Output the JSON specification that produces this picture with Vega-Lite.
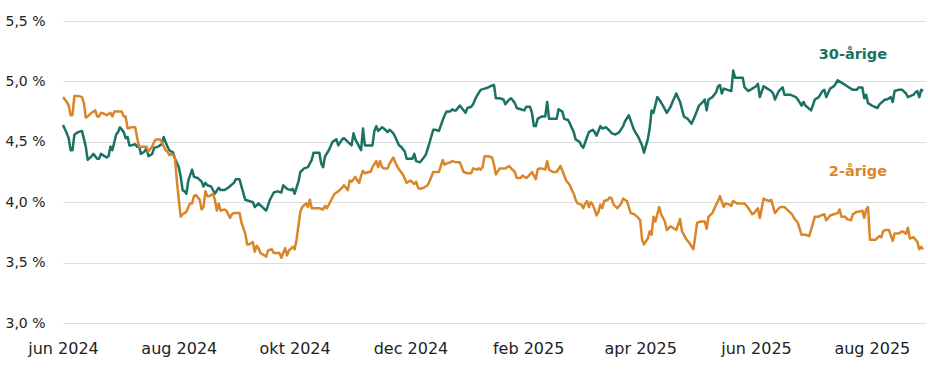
{
"$schema":"https://vega.github.io/schema/vega-lite/v6.json",
"width":862,"height":302,
"autosize":{"type":"none"},
"padding":{"left":63,"top":21,"right":3,"bottom":49},
"background":"white",
"config":{"view":{"stroke":null},"font":"DejaVu Sans"},
"datasets":{
"a":[
{"d":"2024-06-01","v":4.64},{"d":"2024-06-03","v":4.57},{"d":"2024-06-04","v":4.53},{"d":"2024-06-05","v":4.43},{"d":"2024-06-06","v":4.43},{"d":"2024-06-07","v":4.56},{"d":"2024-06-09","v":4.58},{"d":"2024-06-11","v":4.59},{"d":"2024-06-13","v":4.46},{"d":"2024-06-14","v":4.35},{"d":"2024-06-16","v":4.38},{"d":"2024-06-17","v":4.40},{"d":"2024-06-19","v":4.36},{"d":"2024-06-20","v":4.36},{"d":"2024-06-21","v":4.40},{"d":"2024-06-22","v":4.39},{"d":"2024-06-24","v":4.37},{"d":"2024-06-25","v":4.38},{"d":"2024-06-26","v":4.46},{"d":"2024-06-27","v":4.43},{"d":"2024-06-29","v":4.56},{"d":"2024-06-30","v":4.58},
{"d":"2024-07-01","v":4.62},{"d":"2024-07-03","v":4.58},{"d":"2024-07-04","v":4.53},{"d":"2024-07-05","v":4.54},{"d":"2024-07-06","v":4.47},{"d":"2024-07-07","v":4.47},{"d":"2024-07-09","v":4.48},{"d":"2024-07-10","v":4.46},{"d":"2024-07-11","v":4.47},{"d":"2024-07-12","v":4.40},{"d":"2024-07-14","v":4.42},{"d":"2024-07-15","v":4.45},{"d":"2024-07-16","v":4.38},{"d":"2024-07-18","v":4.40},{"d":"2024-07-19","v":4.45},{"d":"2024-07-21","v":4.46},{"d":"2024-07-23","v":4.48},{"d":"2024-07-24","v":4.54},{"d":"2024-07-26","v":4.46},{"d":"2024-07-27","v":4.43},{"d":"2024-07-29","v":4.41},{"d":"2024-07-30","v":4.36},
{"d":"2024-08-01","v":4.29},{"d":"2024-08-02","v":4.21},{"d":"2024-08-03","v":4.10},{"d":"2024-08-04","v":4.09},{"d":"2024-08-05","v":4.07},{"d":"2024-08-06","v":4.18},{"d":"2024-08-08","v":4.27},{"d":"2024-08-09","v":4.21},{"d":"2024-08-11","v":4.20},{"d":"2024-08-13","v":4.17},{"d":"2024-08-14","v":4.13},{"d":"2024-08-15","v":4.16},{"d":"2024-08-16","v":4.14},{"d":"2024-08-18","v":4.13},{"d":"2024-08-20","v":4.07},{"d":"2024-08-22","v":4.12},{"d":"2024-08-23","v":4.10},{"d":"2024-08-25","v":4.10},{"d":"2024-08-27","v":4.12},{"d":"2024-08-30","v":4.16},{"d":"2024-08-31","v":4.19},
{"d":"2024-09-02","v":4.19},{"d":"2024-09-03","v":4.13},{"d":"2024-09-05","v":4.02},{"d":"2024-09-07","v":4.01},{"d":"2024-09-09","v":4.00},{"d":"2024-09-10","v":3.96},{"d":"2024-09-12","v":3.99},{"d":"2024-09-14","v":3.96},{"d":"2024-09-16","v":3.93},{"d":"2024-09-18","v":4.02},{"d":"2024-09-20","v":4.08},{"d":"2024-09-22","v":4.09},{"d":"2024-09-24","v":4.08},{"d":"2024-09-25","v":4.14},{"d":"2024-09-27","v":4.11},{"d":"2024-09-29","v":4.10},{"d":"2024-09-30","v":4.11},
{"d":"2024-10-01","v":4.07},{"d":"2024-10-03","v":4.17},{"d":"2024-10-04","v":4.25},{"d":"2024-10-06","v":4.28},{"d":"2024-10-08","v":4.29},{"d":"2024-10-10","v":4.35},{"d":"2024-10-11","v":4.41},{"d":"2024-10-14","v":4.41},{"d":"2024-10-15","v":4.32},{"d":"2024-10-16","v":4.29},{"d":"2024-10-17","v":4.38},{"d":"2024-10-19","v":4.43},{"d":"2024-10-21","v":4.50},{"d":"2024-10-23","v":4.52},{"d":"2024-10-24","v":4.47},{"d":"2024-10-26","v":4.52},{"d":"2024-10-27","v":4.53},{"d":"2024-10-29","v":4.50},{"d":"2024-10-31","v":4.47},
{"d":"2024-11-01","v":4.57},{"d":"2024-11-02","v":4.52},{"d":"2024-11-04","v":4.46},{"d":"2024-11-05","v":4.43},{"d":"2024-11-06","v":4.61},{"d":"2024-11-07","v":4.47},{"d":"2024-11-09","v":4.47},{"d":"2024-11-11","v":4.47},{"d":"2024-11-12","v":4.59},{"d":"2024-11-13","v":4.63},{"d":"2024-11-14","v":4.59},{"d":"2024-11-16","v":4.62},{"d":"2024-11-17","v":4.61},{"d":"2024-11-19","v":4.58},{"d":"2024-11-20","v":4.60},{"d":"2024-11-22","v":4.57},{"d":"2024-11-23","v":4.54},{"d":"2024-11-25","v":4.47},{"d":"2024-11-26","v":4.46},{"d":"2024-11-28","v":4.42},{"d":"2024-11-29","v":4.36},{"d":"2024-11-30","v":4.36},
{"d":"2024-12-02","v":4.36},{"d":"2024-12-03","v":4.40},{"d":"2024-12-04","v":4.34},{"d":"2024-12-06","v":4.33},{"d":"2024-12-07","v":4.35},{"d":"2024-12-09","v":4.39},{"d":"2024-12-11","v":4.49},{"d":"2024-12-13","v":4.60},{"d":"2024-12-14","v":4.60},{"d":"2024-12-16","v":4.59},{"d":"2024-12-18","v":4.68},{"d":"2024-12-19","v":4.72},{"d":"2024-12-20","v":4.75},{"d":"2024-12-22","v":4.75},{"d":"2024-12-23","v":4.77},{"d":"2024-12-24","v":4.76},{"d":"2024-12-25","v":4.76},{"d":"2024-12-27","v":4.80},{"d":"2024-12-28","v":4.78},{"d":"2024-12-30","v":4.74},{"d":"2024-12-31","v":4.78},
{"d":"2025-01-02","v":4.79},{"d":"2025-01-03","v":4.81},{"d":"2025-01-04","v":4.85},{"d":"2025-01-05","v":4.88},{"d":"2025-01-07","v":4.93},{"d":"2025-01-09","v":4.94},{"d":"2025-01-11","v":4.95},{"d":"2025-01-12","v":4.96},{"d":"2025-01-14","v":4.97},{"d":"2025-01-15","v":4.86},{"d":"2025-01-17","v":4.86},{"d":"2025-01-19","v":4.85},{"d":"2025-01-20","v":4.81},{"d":"2025-01-22","v":4.85},{"d":"2025-01-23","v":4.86},{"d":"2025-01-25","v":4.82},{"d":"2025-01-26","v":4.78},{"d":"2025-01-28","v":4.77},{"d":"2025-01-30","v":4.76},{"d":"2025-01-31","v":4.79},
{"d":"2025-02-02","v":4.79},{"d":"2025-02-03","v":4.74},{"d":"2025-02-04","v":4.63},{"d":"2025-02-05","v":4.63},{"d":"2025-02-06","v":4.69},{"d":"2025-02-08","v":4.71},{"d":"2025-02-10","v":4.71},{"d":"2025-02-11","v":4.83},{"d":"2025-02-12","v":4.69},{"d":"2025-02-14","v":4.69},{"d":"2025-02-16","v":4.69},{"d":"2025-02-17","v":4.77},{"d":"2025-02-19","v":4.75},{"d":"2025-02-20","v":4.69},{"d":"2025-02-22","v":4.68},{"d":"2025-02-23","v":4.65},{"d":"2025-02-25","v":4.58},{"d":"2025-02-26","v":4.52},{"d":"2025-02-28","v":4.50},
{"d":"2025-03-01","v":4.47},{"d":"2025-03-02","v":4.45},{"d":"2025-03-04","v":4.54},{"d":"2025-03-05","v":4.58},{"d":"2025-03-07","v":4.60},{"d":"2025-03-08","v":4.58},{"d":"2025-03-09","v":4.55},{"d":"2025-03-11","v":4.63},{"d":"2025-03-12","v":4.61},{"d":"2025-03-14","v":4.62},{"d":"2025-03-16","v":4.59},{"d":"2025-03-17","v":4.57},{"d":"2025-03-19","v":4.56},{"d":"2025-03-21","v":4.58},{"d":"2025-03-23","v":4.63},{"d":"2025-03-24","v":4.67},{"d":"2025-03-26","v":4.72},{"d":"2025-03-28","v":4.63},{"d":"2025-03-29","v":4.59},{"d":"2025-03-31","v":4.54},
{"d":"2025-04-02","v":4.47},{"d":"2025-04-03","v":4.41},{"d":"2025-04-05","v":4.52},{"d":"2025-04-06","v":4.61},{"d":"2025-04-07","v":4.76},{"d":"2025-04-08","v":4.74},{"d":"2025-04-10","v":4.87},{"d":"2025-04-11","v":4.85},{"d":"2025-04-13","v":4.80},{"d":"2025-04-15","v":4.74},{"d":"2025-04-17","v":4.79},{"d":"2025-04-18","v":4.83},{"d":"2025-04-20","v":4.90},{"d":"2025-04-22","v":4.83},{"d":"2025-04-24","v":4.71},{"d":"2025-04-26","v":4.69},{"d":"2025-04-28","v":4.65},{"d":"2025-04-30","v":4.72},
{"d":"2025-05-02","v":4.80},{"d":"2025-05-04","v":4.83},{"d":"2025-05-05","v":4.85},{"d":"2025-05-06","v":4.76},{"d":"2025-05-07","v":4.85},{"d":"2025-05-09","v":4.87},{"d":"2025-05-11","v":4.91},{"d":"2025-05-12","v":4.96},{"d":"2025-05-13","v":4.97},{"d":"2025-05-14","v":4.90},{"d":"2025-05-15","v":4.94},{"d":"2025-05-17","v":4.93},{"d":"2025-05-19","v":4.92},{"d":"2025-05-20","v":5.09},{"d":"2025-05-21","v":5.03},{"d":"2025-05-23","v":5.03},{"d":"2025-05-25","v":5.03},{"d":"2025-05-26","v":4.95},{"d":"2025-05-28","v":4.92},{"d":"2025-05-30","v":4.94},
{"d":"2025-06-01","v":4.96},{"d":"2025-06-02","v":4.98},{"d":"2025-06-03","v":4.87},{"d":"2025-06-05","v":4.96},{"d":"2025-06-07","v":4.94},{"d":"2025-06-09","v":4.92},{"d":"2025-06-10","v":4.90},{"d":"2025-06-11","v":4.85},{"d":"2025-06-13","v":4.92},{"d":"2025-06-15","v":4.95},{"d":"2025-06-16","v":4.89},{"d":"2025-06-19","v":4.89},{"d":"2025-06-22","v":4.87},{"d":"2025-06-23","v":4.85},{"d":"2025-06-25","v":4.80},{"d":"2025-06-26","v":4.83},{"d":"2025-06-27","v":4.80},{"d":"2025-06-30","v":4.76},
{"d":"2025-07-02","v":4.85},{"d":"2025-07-04","v":4.87},{"d":"2025-07-06","v":4.92},{"d":"2025-07-07","v":4.93},{"d":"2025-07-08","v":4.87},{"d":"2025-07-10","v":4.94},{"d":"2025-07-12","v":4.96},{"d":"2025-07-13","v":4.98},{"d":"2025-07-14","v":5.01},{"d":"2025-07-16","v":4.99},{"d":"2025-07-18","v":4.97},{"d":"2025-07-20","v":4.95},{"d":"2025-07-22","v":4.93},{"d":"2025-07-24","v":4.93},{"d":"2025-07-25","v":4.95},{"d":"2025-07-27","v":4.95},{"d":"2025-07-28","v":4.86},{"d":"2025-07-29","v":4.89},{"d":"2025-07-30","v":4.82},
{"d":"2025-08-01","v":4.80},{"d":"2025-08-04","v":4.78},{"d":"2025-08-05","v":4.81},{"d":"2025-08-08","v":4.85},{"d":"2025-08-09","v":4.85},{"d":"2025-08-11","v":4.87},{"d":"2025-08-12","v":4.83},{"d":"2025-08-13","v":4.92},{"d":"2025-08-15","v":4.93},{"d":"2025-08-17","v":4.93},{"d":"2025-08-19","v":4.90},{"d":"2025-08-20","v":4.87},{"d":"2025-08-23","v":4.89},{"d":"2025-08-24","v":4.91},{"d":"2025-08-25","v":4.92},{"d":"2025-08-26","v":4.87},{"d":"2025-08-27","v":4.93},{"d":"2025-08-28","v":4.92}
],
"b":[
{"d":"2024-06-01","v":4.87},{"d":"2024-06-03","v":4.83},{"d":"2024-06-04","v":4.80},{"d":"2024-06-05","v":4.72},{"d":"2024-06-06","v":4.72},{"d":"2024-06-07","v":4.88},{"d":"2024-06-09","v":4.88},{"d":"2024-06-11","v":4.87},{"d":"2024-06-12","v":4.82},{"d":"2024-06-13","v":4.70},{"d":"2024-06-14","v":4.71},{"d":"2024-06-16","v":4.74},{"d":"2024-06-18","v":4.76},{"d":"2024-06-19","v":4.71},{"d":"2024-06-20","v":4.71},{"d":"2024-06-21","v":4.74},{"d":"2024-06-23","v":4.73},{"d":"2024-06-24","v":4.72},{"d":"2024-06-26","v":4.74},{"d":"2024-06-27","v":4.71},{"d":"2024-06-28","v":4.75},{"d":"2024-06-30","v":4.75},
{"d":"2024-07-02","v":4.75},{"d":"2024-07-03","v":4.71},{"d":"2024-07-04","v":4.71},{"d":"2024-07-05","v":4.61},{"d":"2024-07-07","v":4.62},{"d":"2024-07-09","v":4.62},{"d":"2024-07-11","v":4.46},{"d":"2024-07-13","v":4.46},{"d":"2024-07-15","v":4.46},{"d":"2024-07-16","v":4.42},{"d":"2024-07-18","v":4.46},{"d":"2024-07-19","v":4.50},{"d":"2024-07-20","v":4.52},{"d":"2024-07-22","v":4.52},{"d":"2024-07-23","v":4.50},{"d":"2024-07-25","v":4.43},{"d":"2024-07-26","v":4.42},{"d":"2024-07-27","v":4.39},{"d":"2024-07-28","v":4.40},{"d":"2024-07-29","v":4.39},{"d":"2024-07-30","v":4.36},{"d":"2024-07-31","v":4.17},
{"d":"2024-08-01","v":4.02},{"d":"2024-08-02","v":3.88},{"d":"2024-08-03","v":3.90},{"d":"2024-08-05","v":3.92},{"d":"2024-08-06","v":3.96},{"d":"2024-08-07","v":3.99},{"d":"2024-08-08","v":3.99},{"d":"2024-08-09","v":4.05},{"d":"2024-08-10","v":4.06},{"d":"2024-08-11","v":4.04},{"d":"2024-08-12","v":4.02},{"d":"2024-08-13","v":3.94},{"d":"2024-08-14","v":3.96},{"d":"2024-08-15","v":4.09},{"d":"2024-08-16","v":4.05},{"d":"2024-08-17","v":4.05},{"d":"2024-08-19","v":4.07},{"d":"2024-08-20","v":4.02},{"d":"2024-08-21","v":3.93},{"d":"2024-08-22","v":3.99},{"d":"2024-08-23","v":3.93},{"d":"2024-08-25","v":3.94},{"d":"2024-08-26","v":3.93},{"d":"2024-08-28","v":3.87},{"d":"2024-08-29","v":3.90},{"d":"2024-08-30","v":3.91},
{"d":"2024-09-01","v":3.91},{"d":"2024-09-02","v":3.91},{"d":"2024-09-03","v":3.83},{"d":"2024-09-05","v":3.74},{"d":"2024-09-06","v":3.65},{"d":"2024-09-07","v":3.65},{"d":"2024-09-09","v":3.67},{"d":"2024-09-10","v":3.59},{"d":"2024-09-11","v":3.64},{"d":"2024-09-12","v":3.62},{"d":"2024-09-13","v":3.58},{"d":"2024-09-15","v":3.56},{"d":"2024-09-16","v":3.55},{"d":"2024-09-17","v":3.60},{"d":"2024-09-19","v":3.61},{"d":"2024-09-20","v":3.58},{"d":"2024-09-22","v":3.58},{"d":"2024-09-23","v":3.58},{"d":"2024-09-24","v":3.54},{"d":"2024-09-26","v":3.62},{"d":"2024-09-27","v":3.56},{"d":"2024-09-28","v":3.60},{"d":"2024-09-30","v":3.63},
{"d":"2024-10-01","v":3.61},{"d":"2024-10-02","v":3.69},{"d":"2024-10-04","v":3.92},{"d":"2024-10-05","v":3.96},{"d":"2024-10-07","v":3.99},{"d":"2024-10-08","v":3.96},{"d":"2024-10-09","v":4.02},{"d":"2024-10-10","v":3.95},{"d":"2024-10-14","v":3.95},{"d":"2024-10-16","v":3.94},{"d":"2024-10-17","v":3.97},{"d":"2024-10-18","v":3.95},{"d":"2024-10-20","v":4.01},{"d":"2024-10-22","v":4.07},{"d":"2024-10-24","v":4.09},{"d":"2024-10-26","v":4.12},{"d":"2024-10-27","v":4.14},{"d":"2024-10-29","v":4.10},{"d":"2024-10-30","v":4.18},{"d":"2024-10-31","v":4.17},
{"d":"2024-11-02","v":4.21},{"d":"2024-11-03","v":4.18},{"d":"2024-11-04","v":4.16},{"d":"2024-11-05","v":4.22},{"d":"2024-11-06","v":4.26},{"d":"2024-11-07","v":4.24},{"d":"2024-11-09","v":4.25},{"d":"2024-11-10","v":4.25},{"d":"2024-11-11","v":4.29},{"d":"2024-11-13","v":4.34},{"d":"2024-11-14","v":4.29},{"d":"2024-11-15","v":4.34},{"d":"2024-11-16","v":4.29},{"d":"2024-11-17","v":4.28},{"d":"2024-11-19","v":4.28},{"d":"2024-11-20","v":4.32},{"d":"2024-11-22","v":4.37},{"d":"2024-11-23","v":4.33},{"d":"2024-11-25","v":4.27},{"d":"2024-11-26","v":4.25},{"d":"2024-11-27","v":4.23},{"d":"2024-11-29","v":4.16},{"d":"2024-11-30","v":4.17},
{"d":"2024-12-01","v":4.18},{"d":"2024-12-03","v":4.15},{"d":"2024-12-04","v":4.17},{"d":"2024-12-05","v":4.12},{"d":"2024-12-06","v":4.11},{"d":"2024-12-08","v":4.12},{"d":"2024-12-10","v":4.14},{"d":"2024-12-11","v":4.17},{"d":"2024-12-13","v":4.25},{"d":"2024-12-14","v":4.25},{"d":"2024-12-16","v":4.25},{"d":"2024-12-18","v":4.35},{"d":"2024-12-19","v":4.31},{"d":"2024-12-20","v":4.32},{"d":"2024-12-22","v":4.33},{"d":"2024-12-23","v":4.34},{"d":"2024-12-25","v":4.33},{"d":"2024-12-27","v":4.33},{"d":"2024-12-28","v":4.29},{"d":"2024-12-29","v":4.25},{"d":"2024-12-31","v":4.24},
{"d":"2025-01-02","v":4.24},{"d":"2025-01-03","v":4.28},{"d":"2025-01-05","v":4.27},{"d":"2025-01-06","v":4.28},{"d":"2025-01-07","v":4.27},{"d":"2025-01-08","v":4.29},{"d":"2025-01-09","v":4.38},{"d":"2025-01-11","v":4.38},{"d":"2025-01-13","v":4.37},{"d":"2025-01-14","v":4.31},{"d":"2025-01-15","v":4.23},{"d":"2025-01-17","v":4.28},{"d":"2025-01-19","v":4.28},{"d":"2025-01-20","v":4.28},{"d":"2025-01-22","v":4.30},{"d":"2025-01-23","v":4.28},{"d":"2025-01-25","v":4.25},{"d":"2025-01-26","v":4.20},{"d":"2025-01-28","v":4.20},{"d":"2025-01-29","v":4.22},{"d":"2025-01-31","v":4.20},
{"d":"2025-02-02","v":4.23},{"d":"2025-02-03","v":4.25},{"d":"2025-02-05","v":4.19},{"d":"2025-02-06","v":4.27},{"d":"2025-02-07","v":4.28},{"d":"2025-02-08","v":4.28},{"d":"2025-02-10","v":4.27},{"d":"2025-02-11","v":4.34},{"d":"2025-02-12","v":4.27},{"d":"2025-02-14","v":4.25},{"d":"2025-02-16","v":4.25},{"d":"2025-02-18","v":4.30},{"d":"2025-02-19","v":4.26},{"d":"2025-02-21","v":4.18},{"d":"2025-02-23","v":4.14},{"d":"2025-02-24","v":4.10},{"d":"2025-02-25","v":4.07},{"d":"2025-02-26","v":4.02},{"d":"2025-02-27","v":3.99},
{"d":"2025-03-01","v":3.98},{"d":"2025-03-02","v":3.95},{"d":"2025-03-03","v":3.99},{"d":"2025-03-04","v":4.01},{"d":"2025-03-05","v":3.96},{"d":"2025-03-06","v":4.00},{"d":"2025-03-07","v":3.98},{"d":"2025-03-08","v":3.94},{"d":"2025-03-09","v":3.89},{"d":"2025-03-10","v":3.92},{"d":"2025-03-11","v":3.98},{"d":"2025-03-12","v":3.95},{"d":"2025-03-13","v":4.01},{"d":"2025-03-15","v":4.02},{"d":"2025-03-16","v":4.04},{"d":"2025-03-17","v":4.03},{"d":"2025-03-18","v":3.98},{"d":"2025-03-20","v":3.95},{"d":"2025-03-22","v":3.99},{"d":"2025-03-23","v":4.03},{"d":"2025-03-25","v":4.01},{"d":"2025-03-27","v":3.91},{"d":"2025-03-29","v":3.90},{"d":"2025-03-31","v":3.87},
{"d":"2025-04-01","v":3.85},{"d":"2025-04-02","v":3.69},{"d":"2025-04-03","v":3.65},{"d":"2025-04-05","v":3.70},{"d":"2025-04-06","v":3.76},{"d":"2025-04-07","v":3.73},{"d":"2025-04-08","v":3.88},{"d":"2025-04-09","v":3.84},{"d":"2025-04-11","v":3.96},{"d":"2025-04-12","v":3.90},{"d":"2025-04-14","v":3.84},{"d":"2025-04-15","v":3.77},{"d":"2025-04-17","v":3.80},{"d":"2025-04-18","v":3.79},{"d":"2025-04-20","v":3.77},{"d":"2025-04-22","v":3.86},{"d":"2025-04-23","v":3.76},{"d":"2025-04-25","v":3.70},{"d":"2025-04-27","v":3.66},{"d":"2025-04-29","v":3.61},
{"d":"2025-05-01","v":3.83},{"d":"2025-05-03","v":3.84},{"d":"2025-05-05","v":3.84},{"d":"2025-05-06","v":3.78},{"d":"2025-05-07","v":3.88},{"d":"2025-05-09","v":3.91},{"d":"2025-05-11","v":3.98},{"d":"2025-05-12","v":4.01},{"d":"2025-05-13","v":4.05},{"d":"2025-05-15","v":3.96},{"d":"2025-05-16","v":3.99},{"d":"2025-05-18","v":3.98},{"d":"2025-05-19","v":3.97},{"d":"2025-05-20","v":4.01},{"d":"2025-05-22","v":3.99},{"d":"2025-05-24","v":3.99},{"d":"2025-05-26","v":3.99},{"d":"2025-05-28","v":3.95},{"d":"2025-05-30","v":3.90},{"d":"2025-05-31","v":3.91},
{"d":"2025-06-02","v":3.95},{"d":"2025-06-03","v":3.87},{"d":"2025-06-05","v":4.03},{"d":"2025-06-06","v":4.02},{"d":"2025-06-08","v":4.01},{"d":"2025-06-09","v":4.02},{"d":"2025-06-11","v":3.91},{"d":"2025-06-13","v":3.95},{"d":"2025-06-14","v":3.96},{"d":"2025-06-16","v":3.96},{"d":"2025-06-18","v":3.93},{"d":"2025-06-20","v":3.90},{"d":"2025-06-21","v":3.87},{"d":"2025-06-23","v":3.83},{"d":"2025-06-24","v":3.78},{"d":"2025-06-25","v":3.73},{"d":"2025-06-27","v":3.73},{"d":"2025-06-29","v":3.72},{"d":"2025-06-30","v":3.77},
{"d":"2025-07-02","v":3.88},{"d":"2025-07-04","v":3.88},{"d":"2025-07-05","v":3.89},{"d":"2025-07-07","v":3.90},{"d":"2025-07-08","v":3.85},{"d":"2025-07-10","v":3.89},{"d":"2025-07-12","v":3.90},{"d":"2025-07-14","v":3.91},{"d":"2025-07-15","v":3.94},{"d":"2025-07-16","v":3.88},{"d":"2025-07-18","v":3.88},{"d":"2025-07-19","v":3.86},{"d":"2025-07-21","v":3.85},{"d":"2025-07-22","v":3.90},{"d":"2025-07-24","v":3.92},{"d":"2025-07-25","v":3.92},{"d":"2025-07-27","v":3.93},{"d":"2025-07-28","v":3.87},{"d":"2025-07-29","v":3.94},{"d":"2025-07-30","v":3.96},{"d":"2025-07-31","v":3.69},
{"d":"2025-08-02","v":3.69},{"d":"2025-08-03","v":3.69},{"d":"2025-08-05","v":3.72},{"d":"2025-08-06","v":3.71},{"d":"2025-08-07","v":3.76},{"d":"2025-08-08","v":3.77},{"d":"2025-08-10","v":3.77},{"d":"2025-08-12","v":3.68},{"d":"2025-08-13","v":3.74},{"d":"2025-08-15","v":3.74},{"d":"2025-08-17","v":3.76},{"d":"2025-08-19","v":3.74},{"d":"2025-08-20","v":3.79},{"d":"2025-08-21","v":3.70},{"d":"2025-08-23","v":3.71},{"d":"2025-08-25","v":3.67},{"d":"2025-08-26","v":3.61},{"d":"2025-08-27","v":3.63},{"d":"2025-08-28","v":3.61}
],
"lab":[{"d":"2025-08-09","v":5.22,"s":"30-årige"},{"d":"2025-08-09","v":4.25,"s":"2-årige"}]
},
"encoding":{
"x":{"field":"d","type":"temporal","scale":{"type":"utc","domain":[{"year":2024,"month":6,"date":1,"utc":true},{"year":2025,"month":8,"date":29,"utc":true}]},
"axis":{"title":null,"domain":false,"ticks":false,"grid":false,"labelFlush":false,"labelOverlap":false,"labelFontSize":16,"labelColor":"#222222","labelPadding":17,
"values":[{"year":2024,"month":6,"date":1,"utc":true},{"year":2024,"month":8,"date":1,"utc":true},{"year":2024,"month":10,"date":1,"utc":true},{"year":2024,"month":12,"date":1,"utc":true},{"year":2025,"month":2,"date":1,"utc":true},{"year":2025,"month":4,"date":1,"utc":true},{"year":2025,"month":6,"date":1,"utc":true},{"year":2025,"month":8,"date":1,"utc":true}],
"labelExpr":"['jan','feb','mar','apr','maj','jun','jul','aug','sep','okt','nov','dec'][utcmonth(datum.value)] + ' ' + utcyear(datum.value)"}},
"y":{"field":"v","type":"quantitative","scale":{"domain":[3,5.5],"nice":false,"zero":false},
"axis":{"title":null,"domain":false,"ticks":false,"grid":true,"gridColor":"#dddddd","gridWidth":1,"values":[3,3.5,4,4.5,5,5.5],"labelFontSize":14,"labelColor":"#222222","labelPadding":18,"labelFlush":false,
"labelExpr":"replace(format(datum.value,'.1f'),'.',',') + ' %'"}}
},
"layer":[
{"data":{"name":"a"},"mark":{"type":"line","color":"#1a7262","strokeWidth":2.5,"strokeJoin":"round"}},
{"data":{"name":"b"},"mark":{"type":"line","color":"#da8628","strokeWidth":2.5,"strokeJoin":"round"}},
{"data":{"name":"lab"},"mark":{"type":"text","align":"right","baseline":"middle","fontSize":14.5,"fontWeight":"bold"},
"encoding":{"text":{"field":"s"},"color":{"field":"s","type":"nominal","scale":{"domain":["30-årige","2-årige"],"range":["#1a7262","#da8628"]},"legend":null}}}
]
}
